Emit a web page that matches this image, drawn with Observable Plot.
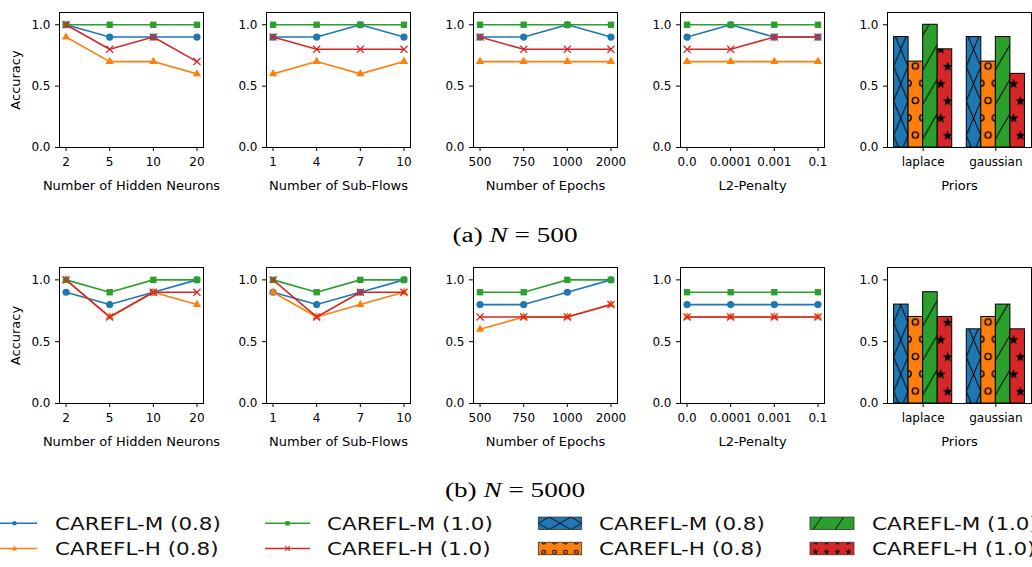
<!DOCTYPE html>
<html><head><meta charset="utf-8">
<script src="https://cdn.jsdelivr.net/npm/d3@7"></script>
<script src="https://cdn.jsdelivr.net/npm/@observablehq/plot@0.6"></script>
<style>
html,body{margin:0;padding:0;background:#fff;}
body{width:1032px;height:567px;overflow:hidden;position:relative;font-family:"DejaVu Sans",sans-serif;}
.panel{position:absolute;}
.panel svg{overflow:visible;max-width:none !important;}
.cap{position:absolute;font-family:"Liberation Serif","DejaVu Serif",serif;font-size:20px;line-height:20px;white-space:nowrap;color:#000;}
#legend{position:absolute;left:0;top:500px;}
</style></head><body>
<script>
// ---------- data ----------
const seriesNames = ["CAREFL-M (0.8)", "CAREFL-H (0.8)", "CAREFL-M (1.0)", "CAREFL-H (1.0)"];
const seriesColors = ["#1f77b4", "#ff7f0e", "#2ca02c", "#d62728"];
const seriesSymbols = ["circle", "triangle", "square", "times"];

const hiddenTicks = ["2", "5", "10", "20"];
const subflowTicks = ["1", "4", "7", "10"];
const epochTicks = ["500", "750", "1000", "2000"];
const l2Ticks = ["0.0", "0.0001", "0.001", "0.1"];
const priorTicks = ["laplace", "gaussian"];
const yTicks = [0, 0.5, 1.0];

// (a) N = 500 — rows: M(0.8), H(0.8), M(1.0), H(1.0)
const a_hidden  = [[1.0, 0.9, 0.9, 0.9], [0.9, 0.7, 0.7, 0.6], [1.0, 1.0, 1.0, 1.0], [1.0, 0.8, 0.9, 0.7]];
const a_subflow = [[0.9, 0.9, 1.0, 0.9], [0.6, 0.7, 0.6, 0.7], [1.0, 1.0, 1.0, 1.0], [0.9, 0.8, 0.8, 0.8]];
const a_epochs  = [[0.9, 0.9, 1.0, 0.9], [0.7, 0.7, 0.7, 0.7], [1.0, 1.0, 1.0, 1.0], [0.9, 0.8, 0.8, 0.8]];
const a_l2      = [[0.9, 1.0, 0.9, 0.9], [0.7, 0.7, 0.7, 0.7], [1.0, 1.0, 1.0, 1.0], [0.8, 0.8, 0.9, 0.9]];
const a_priors  = [[0.9, 0.9], [0.7, 0.7], [1.0, 0.9], [0.8, 0.6]];

// (b) N = 5000
const b_hidden  = [[0.9, 0.8, 0.9, 1.0], [1.0, 0.7, 0.9, 0.8], [1.0, 0.9, 1.0, 1.0], [1.0, 0.7, 0.9, 0.9]];
const b_subflow = [[0.9, 0.8, 0.9, 1.0], [0.9, 0.7, 0.8, 0.9], [1.0, 0.9, 1.0, 1.0], [1.0, 0.7, 0.9, 0.9]];
const b_epochs  = [[0.8, 0.8, 0.9, 1.0], [0.6, 0.7, 0.7, 0.8], [0.9, 0.9, 1.0, 1.0], [0.7, 0.7, 0.7, 0.8]];
const b_l2      = [[0.8, 0.8, 0.8, 0.8], [0.7, 0.7, 0.7, 0.7], [0.9, 0.9, 0.9, 0.9], [0.7, 0.7, 0.7, 0.7]];
const b_priors  = [[0.8, 0.6], [0.7, 0.7], [0.9, 0.8], [0.7, 0.6]];

const xLabels = ["Number of Hidden Neurons", "Number of Sub-Flows", "Number of Epochs", "L2-Penalty", "Priors"];
const captions = [["(a) ", "N", " = 500"], ["(b) ", "N", " = 5000"]];

// ---------- layout ----------
const colFrameLeft = [59, 266, 473, 680, 887];
const rowFrameTop = [12, 267];
const rowFrameH = [135, 136];
const FW = 144, ML = 59, MR = 7, MT = 12, MB = 55;
const symR = {circle: 3.6, triangle: 3.1, square: 3.6, times: 3.3};

function starPath(cx, cy, R, r) {
  let d = "";
  for (let k = 0; k < 10; k++) {
    const a = -Math.PI / 2 + k * Math.PI / 5;
    const rr = k % 2 === 0 ? R : r;
    d += (k === 0 ? "M" : "L") + (cx + rr * Math.cos(a)).toFixed(2) + "," + (cy + rr * Math.sin(a)).toFixed(2);
  }
  return d + "Z";
}

function addPatterns(svgEl, pid, ox, bottom, W, H) {
  const defs = d3.select(svgEl).insert("defs", ":first-child");
  const mk = (i, oy) => {
    const p = defs.append("pattern").attr("id", pid + "-" + i)
      .attr("patternUnits", "userSpaceOnUse")
      .attr("x", ox).attr("y", oy).attr("width", W).attr("height", H);
    p.append("rect").attr("width", W).attr("height", H).attr("fill", seriesColors[i]);
    return p;
  };
  mk(0, bottom - 115).append("path").attr("d", `M0,0L${W},${H}M0,${H}L${W},0`)
    .attr("stroke", "#000").attr("stroke-width", 1).attr("fill", "none");
  const po = mk(1, bottom - 132.75);
  [[W / 2, H / 2], [0, 0], [W, 0], [0, H], [W, H]].forEach(([cx, cy]) =>
    po.append("circle").attr("cx", cx).attr("cy", cy).attr("r", 3.1)
      .attr("fill", "none").attr("stroke", "#000").attr("stroke-width", 1.4));
  mk(2, bottom - 107).append("path").attr("d", `M0,30L${W},5`)
    .attr("stroke", "#000").attr("stroke-width", 1).attr("fill", "none");
  const ps = mk(3, bottom - 89);
  ps.append("path").attr("d", starPath(0.72 * W, H / 4, 5.2, 2.1) + starPath(0.25 * W, 3 * H / 4, 5.2, 2.1)).attr("fill", "#000");
}

function makePanel(row, col, ticks, values, label) {
  const fh = rowFrameH[row];
  const width = ML + FW + MR, height = MT + fh + MB;
  const isBar = col === 4;
  const pid = "pat" + row + col;
  const marks = [
    Plot.axisY({ticks: yTicks, tickFormat: d3.format(".1f"), tickSize: 4, tickPadding: 5, label: null}),
    Plot.axisX({ticks: d3.range(ticks.length), tickFormat: i => ticks[i], tickSize: 4, tickPadding: 6, label: null})
  ];
  if (!isBar) {
    values.forEach((vals, s) => {
      const data = vals.map((v, i) => ({i, v}));
      marks.push(Plot.line(data, {x: "i", y: "v", stroke: seriesColors[s], strokeWidth: 1.6}));
      const sym = seriesSymbols[s];
      if (sym === "times") {
        marks.push(Plot.dot(data, {x: "i", y: "v", symbol: sym, r: symR[sym], stroke: seriesColors[s], strokeWidth: 1.3}));
      } else {
        marks.push(Plot.dot(data, {x: "i", y: "v", symbol: sym, r: symR[sym], fill: seriesColors[s]}));
      }
    });
  } else {
    values.forEach((vals, s) => {
      const data = vals.map((v, g) => ({g, s, v}));
      marks.push(Plot.rect(data, {
        x1: d => d.g + (d.s - 2) * 0.2, x2: d => d.g + (d.s - 1) * 0.2,
        y1: 0, y2: "v", fill: `url(#${pid}-${s})`, stroke: "#000", strokeWidth: 1
      }));
    });
  }
  marks.push(Plot.frame({stroke: "#000", strokeWidth: 1}));
  marks.push(Plot.text([label], {frameAnchor: "bottom", dy: 38, text: d => d, fontSize: 13, lineAnchor: "middle"}));
  if (col === 0) {
    marks.push(Plot.text(["Accuracy"], {frameAnchor: "left", dx: -43.5, rotate: -90, text: d => d, fontSize: 13, lineAnchor: "middle", textAnchor: "middle"}));
  }
  const chart = Plot.plot({
    width, height,
    marginLeft: ML, marginRight: MR, marginTop: MT, marginBottom: MB,
    style: {fontFamily: "DejaVu Sans", fontSize: "12px", color: "#000", background: "none", overflow: "visible", maxWidth: "none"},
    x: {domain: isBar ? [-0.49, 1.49] : [-0.15, 3.15]},
    y: {domain: [0, 1.1]},
    marks
  });
  chart.style.maxWidth = "none";
  chart.style.width = width + "px";
  chart.style.height = height + "px";
  if (isBar) {
    const xs = chart.scale("x"), ys = chart.scale("y");
    const ox = xs.apply(-0.4), W = xs.apply(0.2) - xs.apply(0);
    addPatterns(chart, pid, ox, ys.apply(0), W, 34.5);
  }
  const div = document.createElement("div");
  div.className = "panel";
  div.style.left = (colFrameLeft[col] - ML) + "px";
  div.style.top = (rowFrameTop[row] - MT) + "px";
  div.style.width = width + "px";
  div.style.height = height + "px";
  div.appendChild(chart);
  document.body.appendChild(div);
}

const tickSets = [hiddenTicks, subflowTicks, epochTicks, l2Ticks, priorTicks];
const rowsData = [[a_hidden, a_subflow, a_epochs, a_l2, a_priors], [b_hidden, b_subflow, b_epochs, b_l2, b_priors]];
rowsData.forEach((r, ri) => r.forEach((vals, ci) => makePanel(ri, ci, tickSets[ci], vals, xLabels[ci])));

// ---------- captions ----------
const capCenterY = [235, 490];
let capScale = null;
captions.forEach((parts, i) => {
  const d = document.createElement("div");
  d.className = "cap";
  d.innerHTML = `${parts[0]}<i>${parts[1]}</i>${parts[2]}`;
  document.body.appendChild(d);
  const w = d.getBoundingClientRect().width;
  if (capScale === null) capScale = 125 / w;
  d.style.left = "514.5px";
  d.style.top = capCenterY[i] + "px";
  d.style.transform = `translate(-50%,-50%) scaleX(${capScale})`;
});

// ---------- legend ----------
const lg = d3.select(document.body).append("svg").attr("id", "legend").attr("width", 1032).attr("height", 67);
const rowsY = [23.3, 48.5];
const lineCols = [{x0: -8, x1: 37, tx: 55}, {x0: 265, x1: 310, tx: 327}];
const patchCols = [{x0: 538.3, x1: 581.7, tx: 599}, {x0: 810, x1: 854, tx: 872}];
const probe = lg.append("text").attr("font-size", 17).attr("font-family", "DejaVu Sans").text(seriesNames[0]);
const tScale = 166 / probe.node().getComputedTextLength();
probe.remove();
function legendText(x, y, t) {
  lg.append("text").attr("transform", `translate(${x},${y + 6.2}) scale(${tScale},1)`)
    .attr("font-size", 17).attr("font-family", "DejaVu Sans").attr("fill", "#111").text(t);
}
seriesNames.forEach((name, s) => {
  const c = lineCols[s >> 1], y = rowsY[s & 1], cx = (c.x0 + c.x1) / 2;
  lg.append("line").attr("x1", c.x0).attr("x2", c.x1).attr("y1", y).attr("y2", y)
    .attr("stroke", seriesColors[s]).attr("stroke-width", 1.5);
  const sym = seriesSymbols[s];
  if (sym === "circle") lg.append("circle").attr("cx", cx).attr("cy", y).attr("r", 2.3).attr("fill", seriesColors[s]);
  if (sym === "square") lg.append("rect").attr("x", cx - 2.2).attr("y", y - 2.2).attr("width", 4.4).attr("height", 4.4).attr("fill", seriesColors[s]);
  if (sym === "triangle") lg.append("path").attr("d", `M${cx},${y - 2.8}L${cx + 2.8},${y + 2}L${cx - 2.8},${y + 2}Z`).attr("fill", seriesColors[s]);
  if (sym === "times") lg.append("path").attr("d", `M${cx - 2.3},${y - 2.3}L${cx + 2.3},${y + 2.3}M${cx - 2.3},${y + 2.3}L${cx + 2.3},${y - 2.3}`).attr("stroke", seriesColors[s]).attr("stroke-width", 1.1);
  legendText(c.tx, y, name);
});
const ldefs = lg.append("defs");
function lpat(id, color, W, H, ox, oy, draw) {
  const p = ldefs.append("pattern").attr("id", id).attr("patternUnits", "userSpaceOnUse")
    .attr("x", ox).attr("y", oy).attr("width", W).attr("height", H);
  p.append("rect").attr("width", W).attr("height", H).attr("fill", color);
  draw(p, W, H);
}
const PH = 12.5;
seriesNames.forEach((name, s) => {
  const c = patchCols[s >> 1], yc = rowsY[s & 1], y0 = yc - PH / 2;
  const pw = c.x1 - c.x0, id = "lgp" + s;
  if (s === 0) lpat(id, seriesColors[0], pw / 2, PH, c.x0 - pw / 4, y0, (p, W, H) =>
    p.append("path").attr("d", `M0,0L${W},${H}M0,${H}L${W},0`).attr("stroke", "#000").attr("stroke-width", 0.9).attr("fill", "none"));
  if (s === 1) lpat(id, seriesColors[1], pw / 4, PH, c.x0, y0, (p, W, H) => {
    p.append("circle").attr("cx", W / 2).attr("cy", H - 2.6).attr("r", 1.9).attr("fill", "none").attr("stroke", "#000").attr("stroke-width", 1);
    p.append("circle").attr("cx", W / 2).attr("cy", 0).attr("r", 1.9).attr("fill", "none").attr("stroke", "#000").attr("stroke-width", 1);
  });
  if (s === 2) lpat(id, seriesColors[2], pw / 2, PH, c.x0, y0, (p, W, H) =>
    p.append("path").attr("d", `M3,${H}L11.7,0`).attr("stroke", "#000").attr("stroke-width", 0.9).attr("fill", "none"));
  if (s === 3) lpat(id, seriesColors[3], pw / 4, PH, c.x0, y0, (p, W, H) => {
    p.append("path").attr("d", starPath(W / 2, H - 3, 3.2, 1.3)).attr("fill", "#000");
    p.append("path").attr("d", starPath(W / 2, 0, 3.2, 1.3)).attr("fill", "#000");
  });
  lg.append("rect").attr("x", c.x0).attr("y", y0).attr("width", pw).attr("height", PH)
    .attr("fill", `url(#${id})`).attr("stroke", "#333").attr("stroke-width", 0.8);
  legendText(c.tx, yc, name);
});
</script>
</body></html>
